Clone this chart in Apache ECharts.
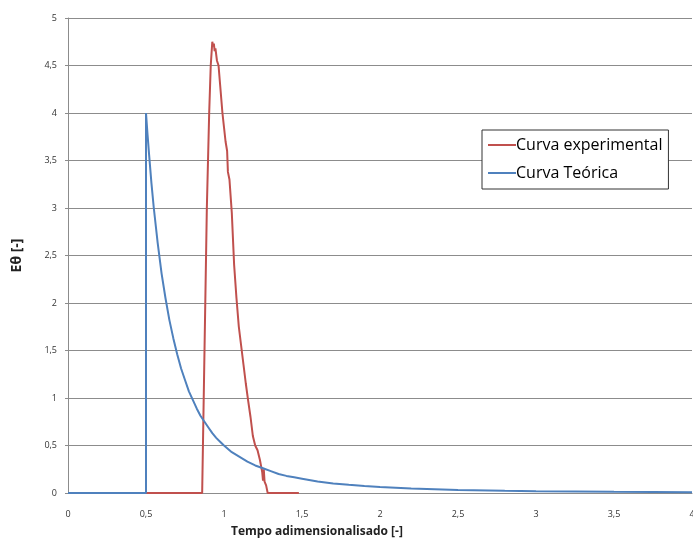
<!DOCTYPE html>
<html>
<head>
<meta charset="utf-8">
<script src="https://cdn.jsdelivr.net/npm/echarts@6/dist/echarts.min.js"></script>
<style>
  html, body { margin: 0; padding: 0; background: #fff; }
  #chart { width: 693px; height: 552px; }
</style>
</head>
<body>
<div id="chart"></div>
<script>
// values: [tempo adimensional, E(theta)]
const experimental = [
  [0.5, 0], [0.86, 0], [0.875, 1.5], [0.89, 3.0], [0.905, 4.0], [0.915, 4.5],
  [0.925, 4.75], [0.93, 4.70], [0.935, 4.73], [0.94, 4.65], [0.945, 4.68],
  [0.955, 4.55], [0.965, 4.5], [0.975, 4.3], [0.99, 4.0], [1.0, 3.85],
  [1.01, 3.7], [1.02, 3.6], [1.025, 3.38], [1.035, 3.3], [1.05, 2.95],
  [1.065, 2.4], [1.08, 2.05], [1.095, 1.75], [1.11, 1.55], [1.125, 1.35],
  [1.14, 1.15], [1.155, 0.97], [1.17, 0.8], [1.185, 0.6], [1.2, 0.5],
  [1.215, 0.45], [1.23, 0.35], [1.245, 0.22], [1.25, 0.13], [1.255, 0.25],
  [1.26, 0.12], [1.27, 0.08], [1.28, 0], [1.48, 0]
]

const teorica = [
  [0, 0], [0.5, 0], [0.5, 4.0], [0.51, 3.77], [0.52, 3.56], [0.535, 3.26],
  [0.55, 3.0], [0.575, 2.63], [0.6, 2.31], [0.625, 2.05], [0.65, 1.82],
  [0.675, 1.63], [0.7, 1.46], [0.725, 1.31], [0.75, 1.19], [0.775, 1.07],
  [0.8, 0.98], [0.825, 0.89], [0.85, 0.81], [0.875, 0.75], [0.9, 0.69],
  [0.925, 0.63], [0.95, 0.58], [0.975, 0.54], [1.0, 0.5], [1.05, 0.43],
  [1.1, 0.38], [1.15, 0.33], [1.2, 0.29], [1.25, 0.26], [1.3, 0.23],
  [1.35, 0.2], [1.4, 0.18], [1.45, 0.165], [1.5, 0.15], [1.6, 0.12],
  [1.7, 0.1], [1.8, 0.086], [1.9, 0.073], [2.0, 0.063], [2.2, 0.047],
  [2.5, 0.032], [2.8, 0.023], [3.0, 0.019], [3.5, 0.012], [4.0, 0.008]
]

const seriesNames = ['Curva experimental', 'Curva Teórica']

const chart = echarts.init(document.getElementById('chart'))

const font = '"Open Sans", "Noto Sans", sans-serif'
const gridColor = '#8c8c8c'
const comma = v => String(v).replace('.', ',')

const option = {
  animation: false,
  textStyle: { fontFamily: font },
  grid: { left: 68, right: 1, top: 18, bottom: 59, outerBoundsMode: 'none' },
  legend: {
    data: seriesNames,
    orient: 'vertical',
    left: 482,
    top: 130,
    width: 185,
    padding: [7, 6, 8, 6],
    itemGap: 12,
    itemWidth: 28,
    itemHeight: 2,
    icon: 'rect',
    backgroundColor: '#fff',
    borderColor: '#333',
    borderWidth: 1,
    textStyle: { fontFamily: font, fontSize: 16, color: '#000', padding: [0, 0, 0, -5] }
  },
  xAxis: {
    type: 'value',
    min: 0,
    max: 4,
    interval: 0.5,
    axisLine: { show: true, onZero: true, lineStyle: { color: gridColor } },
    axisTick: { show: false },
    splitLine: { show: false },
    axisLabel: { color: '#333', fontSize: 9, margin: 17, formatter: comma, showMaxLabel: true }
  },
  yAxis: {
    type: 'value',
    min: 0,
    max: 5,
    interval: 0.5,
    name: 'Eθ [-]',
    nameLocation: 'middle',
    nameGap: 44,
    nameTextStyle: { fontFamily: font, fontSize: 14, fontWeight: 'bold', color: '#222' },
    axisLine: { show: true, lineStyle: { color: gridColor } },
    axisTick: { show: true, length: 3, lineStyle: { color: gridColor } },
    splitLine: { lineStyle: { color: gridColor, width: 1 } },
    axisLabel: { color: '#333', fontSize: 9, margin: 11, formatter: comma }
  },
  graphic: [{
    type: 'text',
    left: 231,
    top: 526,
    style: {
      text: 'Tempo adimensionalisado [-]',
      font: 'bold 12px ' + font,
      fill: '#222'
    }
  }],
  series: [
    {
      name: seriesNames[0],
      type: 'line',
      data: experimental,
      symbol: 'none',
      lineStyle: { color: '#c0504d', width: 2 },
      itemStyle: { color: '#c0504d' }
    },
    {
      name: seriesNames[1],
      type: 'line',
      data: teorica,
      symbol: 'none',
      lineStyle: { color: '#4f81bd', width: 2 },
      itemStyle: { color: '#4f81bd' }
    }
  ]
}

chart.setOption(option)
</script>
</body>
</html>
